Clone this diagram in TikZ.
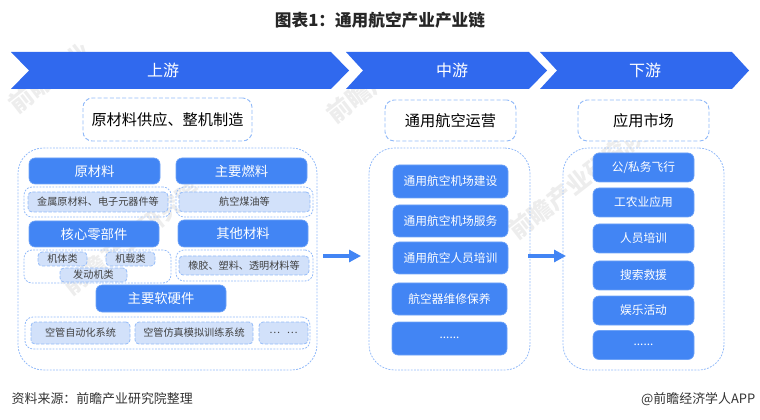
\documentclass[tikz,border=0pt]{standalone}
\usepackage{fontspec}
\setmainfont{Noto Sans CJK SC}
\usepackage{xcolor}
\usetikzlibrary{arrows.meta}
\definecolor{chevblue}{HTML}{3069EE}
\definecolor{boxblue}{HTML}{4285F4}
\definecolor{boxedge}{HTML}{6FA3F7}
\definecolor{dashblue}{HTML}{93BBF9}
\definecolor{lightblue}{HTML}{D2E1FA}
\definecolor{markgray}{HTML}{EDEDED}
\tikzset{
  boxsize/.style 2 args={minimum width=#1*0.75pt,minimum height=#2*0.75pt,inner sep=0pt,outer sep=0pt},
  bigtext/.style={font=\fontsize{10}{12}\selectfont},
  midtext/.style={font=\fontsize{8.8}{11}\selectfont},
  chev/.style={fill=chevblue},
  chevtext/.style={text=white,font=\fontsize{12}{14}\selectfont},
  bluebox/.style={draw=boxedge,fill=boxblue,text=white,rounded corners=4.5pt,line width=.5pt},
  lightbox/.style={draw=dashblue,fill=lightblue,text=black!75,dash pattern=on 2.5pt off 1.2pt,rounded corners=3pt,line width=.6pt,font=\fontsize{7.6}{9}\selectfont},
  headbox/.style={draw=dashblue,fill=white,dash pattern=on 3pt off 1.6pt,rounded corners=7pt,line width=.7pt,font=\fontsize{11.4}{13}\selectfont},
  panel/.style={draw=dashblue,dash pattern=on 1.4pt off 1pt,line width=.6pt,rounded corners=#1},
  flow/.style={draw=boxblue,line width=3pt,-{Triangle[length=9pt,width=9pt]}},
  watermark/.style={text=markgray,rotate=38,font=\bfseries\fontsize{18}{21}\selectfont}
}
\begin{document}
\begin{tikzpicture}[x=0.75pt,y=-0.75pt]
  \useasboundingbox (0,0) rectangle (760,420);
  % watermark
  \node[watermark] (mark1) at (50,78) {前瞻产业};
  \node[watermark] (mark2) at (368,88) {前瞻产业};
  \node[watermark] (mark3) at (132,238) {前瞻产业研究院};
  \node[watermark] (mark4) at (578,182) {前瞻产业研究院};
  % title
  \node[font=\bfseries\fontsize{12.5}{15}\selectfont,text=black!85] (title) at (380,20) {图表1：通用航空产业产业链};
  % chevrons
  \fill[chev] (11,52) -- (331,52) -- (349,70.5) -- (331,89) -- (11,89) -- (29,70.5) -- cycle;
  \fill[chev] (346,52) -- (529,52) -- (547,70.5) -- (529,89) -- (346,89) -- (363,70.5) -- cycle;
  \fill[chev] (540,52) -- (732,52) -- (749,70.5) -- (732,89) -- (540,89) -- (557,70.5) -- cycle;
  \node[chevtext] (up) at (163,70) {上游};
  \node[chevtext] (mid) at (452,70) {中游};
  \node[chevtext] (down) at (645,70) {下游};
  % headers
  \node[headbox,boxsize={169}{43}] (uphead) at (167.5,119.5) {原材料供应、整机制造};
  \node[headbox,boxsize={131}{41}] (midhead) at (450.5,120.5) {通用航空运营};
  \node[headbox,boxsize={131}{41}] (downhead) at (643.5,120.5) {应用市场};
  % panels
  \node[panel=19pt,boxsize={299}{222}] (uppanel) at (167.5,259) {};
  \node[panel=19pt,boxsize={161}{222}] (midpanel) at (449.5,259) {};
  \node[panel=19pt,boxsize={161}{222}] (downpanel) at (643.5,259) {};
  % upstream
  \node[bluebox,boxsize={131}{26},bigtext] (raw) at (94.5,171) {原材料};
  \node[bluebox,boxsize={131}{26},bigtext] (fuel) at (241.5,171) {主要燃料};
  \node[panel=6pt,boxsize={147}{30}] (rawouter) at (97.5,202) {};
  \node[panel=6pt,boxsize={137}{30}] (fuelouter) at (244.5,202) {};
  \node[lightbox,boxsize={140}{20}] (rawitem) at (98,202) {金属原材料、电子元器件等};
  \node[lightbox,boxsize={131}{20}] (fuelitem) at (244.5,202) {航空煤油等};
  \node[bluebox,boxsize={130}{26},bigtext] (core) at (94,234) {核心零部件};
  \node[bluebox,boxsize={130}{27},bigtext] (other) at (243,233.5) {其他材料};
  \node[panel=6pt,boxsize={147}{33}] (coreouter) at (97.5,266.5) {};
  \node[panel=6pt,boxsize={137}{31}] (otherouter) at (244.5,265.5) {};
  \node[lightbox,boxsize={49}{14}] (frame) at (62.5,259) {机体类};
  \node[lightbox,boxsize={49}{14}] (borne) at (130.5,259) {机载类};
  \node[lightbox,boxsize={67}{14}] (engine) at (93.5,275) {发动机类};
  \node[lightbox,boxsize={130}{19}] (otheritem) at (244,265.5) {橡胶、塑料、透明材料等};
  \node[bluebox,boxsize={130}{27},bigtext] (soft) at (161,298.5) {主要软硬件};
  \node[panel=6pt,boxsize={285}{32}] (softouter) at (167.5,333) {};
  \node[lightbox,boxsize={99}{22}] (atc) at (80.5,333) {空管自动化系统};
  \node[lightbox,boxsize={118}{22}] (sim) at (194,333) {空管仿真模拟训练系统};
  \node[lightbox,boxsize={49}{22}] (etc) at (283.5,333) {⋯\hspace{5pt}⋯};
  % midstream
  \node[bluebox,boxsize={115}{33},midtext] (mid1) at (450.5,181.5) {通用航空机场建设};
  \node[bluebox,boxsize={115}{32},midtext] (mid2) at (450.5,221) {通用航空机场服务};
  \node[bluebox,boxsize={115}{32},midtext] (mid3) at (450.5,258) {通用航空人员培训};
  \node[bluebox,boxsize={115}{32},midtext] (mid4) at (449.5,299) {航空器维修保养};
  \node[bluebox,boxsize={115}{33},midtext] (mid5) at (449.5,338.5) {\raisebox{1pt}{......}};
  % downstream
  \node[bluebox,boxsize={101}{29},midtext] (down1) at (643.5,167.5) {公/私务飞行};
  \node[bluebox,boxsize={101}{29},midtext] (down2) at (643.5,202.5) {工农业应用};
  \node[bluebox,boxsize={101}{29},midtext] (down3) at (643.5,238.5) {人员培训};
  \node[bluebox,boxsize={101}{29},midtext] (down4) at (643.5,275.5) {搜索救援};
  \node[bluebox,boxsize={101}{29},midtext] (down5) at (643.5,310.5) {娱乐活动};
  \node[bluebox,boxsize={101}{29},midtext] (down6) at (643.5,345) {\raisebox{1pt}{......}};
  % arrows
  \coordinate (flow1a) at (323,256);
  \coordinate (flow1b) at (361,256);
  \coordinate (flow2a) at (528,256);
  \coordinate (flow2b) at (566,256);
  \draw[flow] (flow1a) -- (flow1b);
  \draw[flow] (flow2a) -- (flow2b);
  % footer
  \node[anchor=west,text=black!80,font=\fontsize{9.7}{12}\selectfont] (source) at (7,399) {资料来源：前瞻产业研究院整理};
  \node[anchor=east,text=black!80,font=\fontsize{9.7}{12}\selectfont] (brand) at (760,399) {@前瞻经济学人APP};
\end{tikzpicture}
\end{document}
